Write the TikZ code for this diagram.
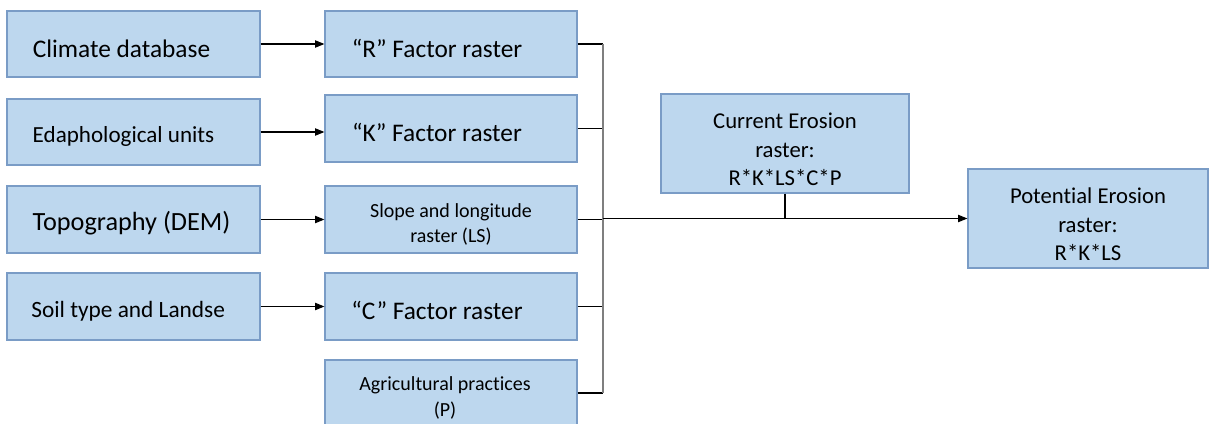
\documentclass[tikz,border=0pt]{standalone}
\usepackage{fontspec}
\setmainfont{Carlito}[Ligatures=NoCommon]
\usetikzlibrary{arrows.meta}
\definecolor{boxfill}{HTML}{BDD7EE}
\definecolor{boxline}{HTML}{7A9CC6}
\definecolor{busgray}{HTML}{7F7F7F}
\newcommand{\bstrut}{\rule{0pt}{20pt}}
\newcommand{\sstrut}{\rule{0pt}{18pt}}
\newcommand{\mstrut}{\rule{0pt}{20.5pt}}
\begin{document}
\begin{tikzpicture}[x=0.75pt,y=-0.75pt,
  box/.style={draw=boxline, fill=boxfill, line width=0.9pt, inner sep=0pt, align=center},
  bigtxt/.style={font=\fontsize{19}{23}\selectfont},
  smalltxt/.style={font=\fontsize{15}{19}\selectfont},
  midtxt/.style={font=\fontsize{17}{21.4}\selectfont},
  conn/.style={line width=0.8pt, black},
  arr/.style={conn, -{Triangle[length=7pt,width=5.5pt]}},
  bus/.style={line width=1.1pt, busgray}]
\useasboundingbox (0,0) rectangle (1209,424);
% left column
\node[box, bigtxt, minimum width=189.75pt, minimum height=49.5pt] (L1) at (133.5,44) {\bstrut Climate database\hspace*{18pt}};
\node[box, font=\fontsize{17.3}{21}\selectfont, minimum width=189.75pt, minimum height=49.5pt] (L2) at (133.5,132) {\rule{0pt}{19pt}Edaphological units\hspace*{15pt}};
\node[box, font=\fontsize{19.7}{24}\selectfont, minimum width=189.75pt, minimum height=50.25pt] (L3) at (133.5,219.5) {\rule{0pt}{20.5pt}Topography (DEM)\hspace*{3pt}};
\node[box, font=\fontsize{17.5}{21}\selectfont, minimum width=189.75pt, minimum height=50.25pt] (L4) at (133.5,306.5) {\rule{0pt}{19pt}Soil type and Landse\hspace*{8pt}};
% middle column
\node[box, bigtxt, minimum width=189pt, minimum height=49.5pt] (M1) at (451,44) {\bstrut “R” Factor raster\hspace*{21pt}};
\node[box, bigtxt, minimum width=189pt, minimum height=50.25pt] (M2) at (451,128.5) {\bstrut “K” Factor raster\hspace*{21pt}};
\node[box, smalltxt, minimum width=189pt, minimum height=50.25pt] (M3) at (451,219.5) {\sstrut Slope and longitude\\raster (LS)};
\node[box, bigtxt, minimum width=189pt, minimum height=50.25pt] (M4) at (451,306.5) {\bstrut “C” Factor raster\hspace*{21pt}};
\node[box, smalltxt, minimum width=189pt, minimum height=49.5pt] (M5) at (451,393) {\sstrut Agricultural practices\hspace*{9pt}\\(P)\hspace*{9pt}};
% right
\node[box, midtxt, minimum width=186pt, minimum height=74.25pt] (CE) at (785,143.5) {\mstrut Current Erosion\\raster:\\R*K*LS*C*P};
\node[box, midtxt, minimum width=180pt, minimum height=74.25pt] (PE) at (1088,218.5) {\mstrut Potential Erosion\\raster:\\R*K*LS};
% bus coordinates
\coordinate (btop) at (603,44);
\coordinate (bbot) at (603,393);
\coordinate (bmain) at (603,218.5);
\coordinate (cejoin) at (785,218.5);
% input arrows
\draw[arr] (L1.east) -- (L1.east -| M1.west);
\draw[arr] (L2.east) -- (L2.east -| M2.west);
\draw[arr] (L3.east) -- (L3.east -| M3.west);
\draw[arr] (L4.east) -- (L4.east -| M4.west);
% to bus
\draw[conn] (M1.east) -- (M1.east -| btop);
\draw[conn] (M2.east) -- (M2.east -| btop);
\draw[conn] (M3.east) -- (M3.east -| btop);
\draw[conn] (M4.east) -- (M4.east -| btop);
\draw[conn] (M5.east) -- (M5.east -| btop);
\draw[bus] (btop) -- (bbot);
% main arrow
\draw[arr] (bmain) -- (PE.west);
\draw[conn] (CE.south) -- (cejoin);
\end{tikzpicture}
\end{document}
